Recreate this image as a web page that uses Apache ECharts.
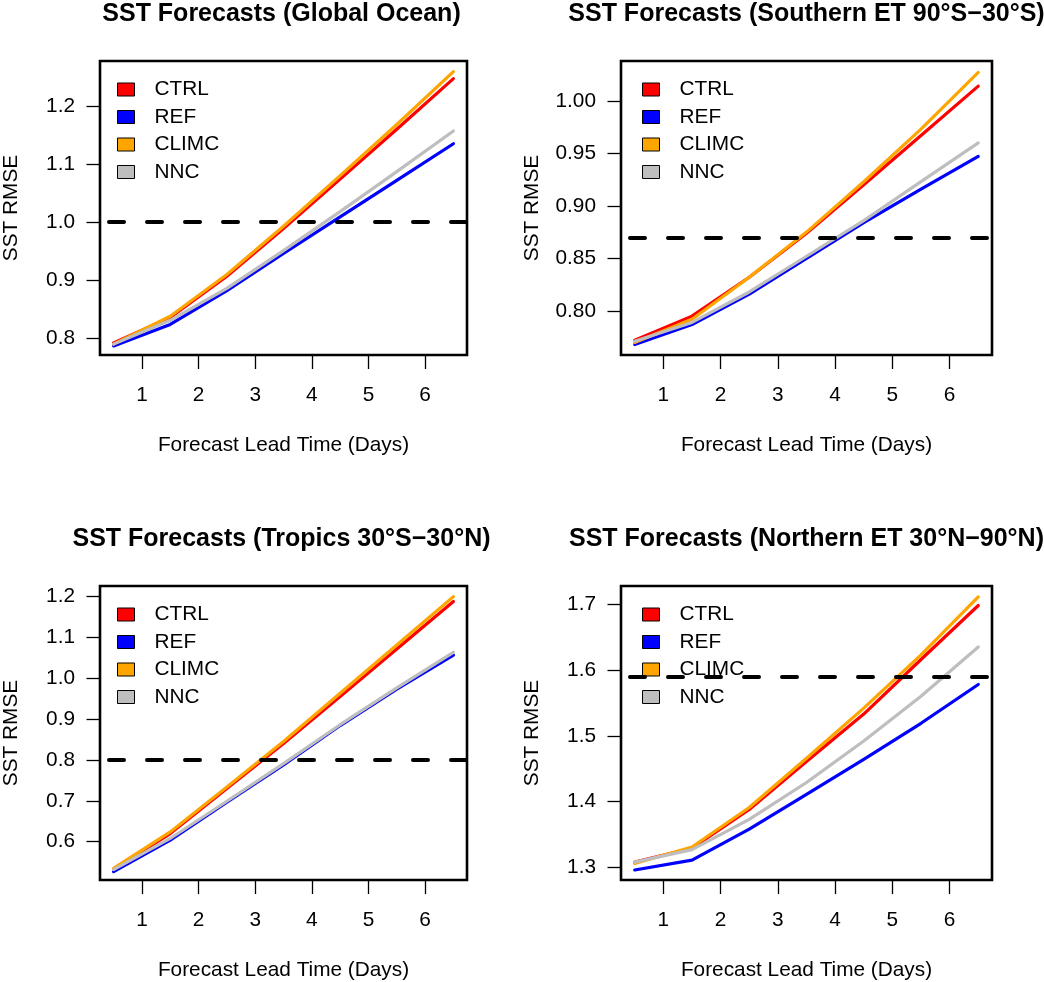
<!DOCTYPE html>
<html>
<head>
<meta charset="utf-8">
<script src="https://cdn.jsdelivr.net/npm/echarts@6/dist/echarts.min.js"></script>
<style>
html,body{margin:0;padding:0;background:#fff;}
#chart{width:1044px;height:982px;}
</style>
</head>
<body>
<div id="chart"></div>
<script>
// ---- data ----
const lead = [0.5, 1.5, 2.5, 3.5, 4.5, 5.5, 6.5];
const xTicks = [1, 2, 3, 4, 5, 6];
const seriesNames = ['CTRL', 'REF', 'CLIMC', 'NNC'];

const globalCtrl  = [0.792, 0.836, 0.907, 0.989, 1.074, 1.160, 1.247];
const globalRef   = [0.787, 0.824, 0.882, 0.946, 1.009, 1.072, 1.135];
const globalClimc = [0.790, 0.838, 0.910, 0.993, 1.080, 1.168, 1.259];
const globalNnc   = [0.790, 0.831, 0.886, 0.951, 1.018, 1.087, 1.157];

const southCtrl  = [0.772, 0.795, 0.832, 0.874, 0.920, 0.967, 1.014];
const southRef   = [0.768, 0.787, 0.816, 0.850, 0.884, 0.916, 0.947];
const southClimc = [0.770, 0.792, 0.832, 0.875, 0.923, 0.973, 1.027];
const southNnc   = [0.771, 0.789, 0.818, 0.852, 0.886, 0.923, 0.960];

const tropCtrl  = [0.533, 0.620, 0.730, 0.840, 0.955, 1.071, 1.187];
const tropRef   = [0.527, 0.604, 0.697, 0.788, 0.884, 0.973, 1.056];
const tropClimc = [0.535, 0.624, 0.734, 0.845, 0.963, 1.081, 1.199];
const tropNnc   = [0.532, 0.608, 0.699, 0.791, 0.886, 0.976, 1.063];

const northCtrl  = [1.308, 1.329, 1.388, 1.461, 1.533, 1.616, 1.698];
const northRef   = [1.296, 1.311, 1.358, 1.411, 1.464, 1.519, 1.578];
const northClimc = [1.306, 1.331, 1.391, 1.466, 1.542, 1.623, 1.711];
const northNnc   = [1.308, 1.327, 1.373, 1.429, 1.492, 1.560, 1.635];

const thresholds = [1.000, 0.870, 0.796, 1.588];

const panelTitles = [
  'SST Forecasts (Global Ocean)',
  'SST Forecasts (Southern ET 90°S\u221230°S)',
  'SST Forecasts (Tropics 30°S\u221230°N)',
  'SST Forecasts (Northern ET 30°N\u221290°N)'
];
const yTicksGlobal = [0.8, 0.9, 1.0, 1.1, 1.2];
const yTicksSouth  = [0.80, 0.85, 0.90, 0.95, 1.00];
const yTicksTrop   = [0.6, 0.7, 0.8, 0.9, 1.0, 1.1, 1.2];
const yTicksNorth  = [1.3, 1.4, 1.5, 1.6, 1.7];
const yDecimals = [1, 2, 1, 1];

const xLabel = 'Forecast Lead Time (Days)';
const yLabel = 'SST RMSE';

// ---- layout / style ----
const panels = [
  [globalCtrl, globalRef, globalClimc, globalNnc],
  [southCtrl, southRef, southClimc, southNnc],
  [tropCtrl, tropRef, tropClimc, tropNnc],
  [northCtrl, northRef, northClimc, northNnc]
];
const yTicks = [yTicksGlobal, yTicksSouth, yTicksTrop, yTicksNorth];
const yRanges = [[0.7713, 1.2774], [0.758, 1.0379], [0.5065, 1.225], [1.2808, 1.7277]];
const colors = ['#FF0000', '#0000FF', '#FFA500', '#BEBEBE'];
const gridPos = [
  {left: 96,  top: 61,  width: 371, height: 294},
  {left: 621, top: 61,  width: 371, height: 294},
  {left: 96,  top: 586, width: 371, height: 295},
  {left: 621, top: 586, width: 371, height: 295}
];
const FONT = 'Liberation Sans, Arial, Helvetica, sans-serif';
const FS = 20.8;

const option = {
  animation: false,
  backgroundColor: '#fff',
  title: [], legend: [], grid: [], xAxis: [], yAxis: [], series: []
};

gridPos.forEach((g, i) => {
  option.grid.push(Object.assign({
    show: true, borderColor: '#000', borderWidth: 2.6, backgroundColor: 'transparent', containLabel: false
  }, g));
  option.title.push({
    text: panelTitles[i],
    left: g.left + g.width / 2,
    top: g.top - 59,
    textAlign: 'center',
    padding: 0,
    textStyle: {fontFamily: FONT, fontSize: 25, fontWeight: 'bold', color: '#000'}
  });
  option.legend.push({
    data: seriesNames,
    orient: 'vertical',
    left: g.left + 21,
    top: g.top + 18,
    padding: 0,
    itemWidth: 17,
    itemHeight: 13,
    itemGap: 6.5,
    icon: 'rect',
    selectedMode: false,
    itemStyle: {borderColor: '#000', borderWidth: 1},
    textStyle: {fontFamily: FONT, fontSize: FS, color: '#000', padding: [0, 0, 0, 15]}
  });
  option.xAxis.push({
    type: 'value', gridIndex: i, min: 0.26, max: 6.74,
    name: xLabel, nameLocation: 'middle', nameGap: 80,
    nameTextStyle: {fontFamily: FONT, fontSize: FS, color: '#000'},
    axisLine: {show: false},
    axisTick: {show: true, inside: false, length: 14, customValues: xTicks, lineStyle: {color: '#000', width: 1.3}},
    axisLabel: {show: true, margin: 30, customValues: xTicks, fontFamily: FONT, fontSize: FS, color: '#000',
      formatter: v => String(v)},
    splitLine: {show: false}
  });
  option.yAxis.push({
    type: 'value', gridIndex: i, min: yRanges[i][0], max: yRanges[i][1],
    name: yLabel, nameLocation: 'middle', nameGap: 78,
    nameTextStyle: {fontFamily: FONT, fontSize: FS, color: '#000'},
    axisLine: {show: false},
    axisTick: {show: true, inside: false, length: 13.5, customValues: yTicks[i], lineStyle: {color: '#000', width: 1.3}},
    axisLabel: {show: true, margin: 25, customValues: yTicks[i], fontFamily: FONT, fontSize: FS, color: '#000',
      formatter: v => Number(v).toFixed(yDecimals[i])},
    splitLine: {show: false}
  });
  panels[i].forEach((vals, k) => {
    const s = {
      name: seriesNames[k], type: 'line', xAxisIndex: i, yAxisIndex: i,
      data: lead.map((x, j) => [x, vals[j]]),
      showSymbol: false, symbol: 'none', color: colors[k],
      lineStyle: {color: colors[k], width: 3.2, cap: 'round', join: 'round'},
      itemStyle: {color: colors[k]},
      silent: true
    };
    if (k === 3) {
      s.markLine = {
        silent: true, symbol: ['none', 'none'], animation: false,
        label: {show: false},
        lineStyle: {color: '#000', width: 4, type: [15, 23], dashOffset: 29, cap: 'round'},
        emphasis: {disabled: true},
        data: [{yAxis: thresholds[i]}]
      };
    }
    option.series.push(s);
  });
});

const chart = echarts.init(document.getElementById('chart'), null, {renderer: 'canvas'});
chart.setOption(option);
</script>
</body>
</html>
